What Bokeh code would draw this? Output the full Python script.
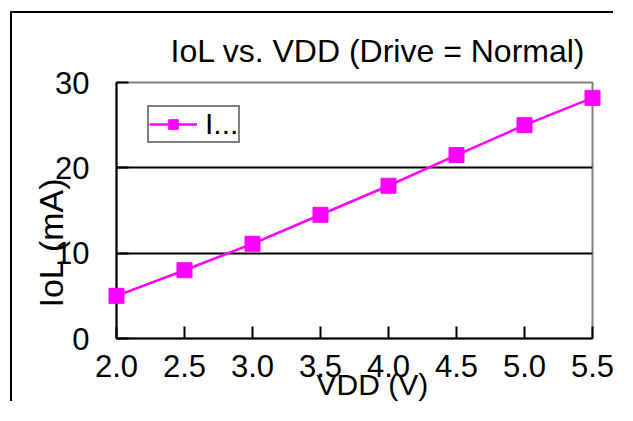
from bokeh.plotting import figure
from bokeh.models import FixedTicker, Legend, LegendItem, Title
from bokeh.embed import file_html
from bokeh.resources import INLINE

# data
vdd = [2.0, 2.5, 3.0, 3.5, 4.0, 4.5, 5.0, 5.5]
iol = [5.0, 8.0, 11.1, 14.5, 17.9, 21.5, 25.0, 28.2]
x_ticks = [2.0, 2.5, 3.0, 3.5, 4.0, 4.5, 5.0, 5.5]
y_ticks = [0, 10, 20, 30]
title_text = "IoL vs. VDD (Drive = Normal)"
x_label = "VDD (V)"
y_label = "IoL (mA)"
series_name = "I..."

FONT = "Liberation Sans"
MAG = "#FF00FF"

p = figure(width=603, height=390, output_backend="svg", toolbar_location=None,
           x_range=(2.0, 5.5), y_range=(0, 30),
           min_border_left=104, min_border_right=23, min_border_top=69, min_border_bottom=65)
p.margin = (13, 0, 0, 12)
p.styles = {"box-shadow": "-2px -2px 0px 0px #000", "background-color": "white"}

p.outline_line_color = "#808080"
p.outline_line_width = 2
p.background_fill_color = "white"
p.border_fill_color = "white"

for ax in (p.xaxis[0], p.yaxis[0]):
    ax.axis_line_color = "black"
    ax.axis_line_width = 2
    ax.major_tick_line_color = "black"
    ax.major_tick_line_width = 2
    ax.major_tick_in = 12
    ax.major_tick_out = 0
    ax.minor_tick_line_color = None
    ax.major_label_text_font = FONT
    ax.major_label_text_font_size = "31px"
    ax.major_label_text_color = "black"

p.xaxis.ticker = FixedTicker(ticks=x_ticks)
p.xaxis.major_label_overrides = {t: f"{t:.1f}" for t in x_ticks}
p.xaxis.major_label_standoff = 16
p.yaxis.ticker = FixedTicker(ticks=y_ticks)
p.yaxis.major_label_standoff = 27

p.xgrid.visible = False
p.ygrid.ticker = FixedTicker(ticks=[t for t in y_ticks if 0 < t < 30])
p.ygrid.grid_line_color = "black"
p.ygrid.grid_line_width = 2

ln = p.line(vdd, iol, line_color=MAG, line_width=2.5)
sc = p.scatter(vdd, iol, marker="square", size=15, fill_color=MAG, line_color=MAG)
ln.level = "overlay"
sc.level = "overlay"

legend = Legend(items=[LegendItem(label=series_name, renderers=[ln, sc])],
                location=(31, 195), orientation="vertical")
legend.border_line_color = "black"
legend.border_line_width = 2
legend.background_fill_alpha = 0
legend.padding = 0
legend.margin = 0
legend.spacing = 0
legend.glyph_width = 48
legend.glyph_height = 24
legend.label_standoff = 8
legend.label_text_font = FONT
legend.label_text_font_size = "30px"
legend.label_text_color = "black"
legend.label_height = 24
p.add_layout(legend, "center")

p.title.text = title_text
p.title.text_font = FONT
p.title.text_font_size = "32px"
p.title.text_font_style = "normal"
p.title.text_color = "black"
p.title.align = "left"
p.title.offset = 54
p.title.standoff = 27

p.add_layout(Title(text=x_label, text_font=FONT, text_font_size="30px", text_font_style="normal",
                   text_color="black", align="left", offset=200, standoff=-42), "below")
p.add_layout(Title(text=y_label, text_font=FONT, text_font_size="34px", text_font_style="normal",
                   text_color="black", align="left", offset=31, standoff=-35), "left")

open("out.html", "w").write(file_html(p, INLINE))
